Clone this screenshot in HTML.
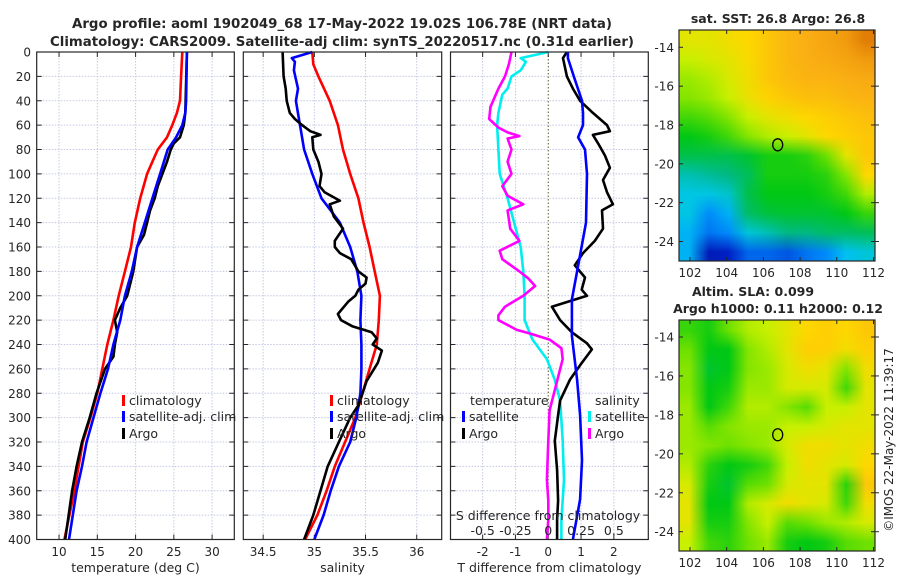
<!DOCTYPE html>
<html><head><meta charset="utf-8">
<style>
html,body{margin:0;padding:0;background:#fff;}
#wrap{position:relative;width:900px;height:580px;overflow:hidden;background:#fff;}
canvas{position:absolute;}
svg{position:absolute;left:0;top:0;}
text{font-family:"DejaVu Sans","Liberation Sans",sans-serif;fill:#262626;}
</style></head>
<body>
<div id="wrap">
<canvas id="sstMap" width="10" height="12" style="left:679px;top:30px;width:196px;height:231px;"></canvas>
<canvas id="slaMap" width="10" height="12" style="left:679px;top:320px;width:196px;height:231px;"></canvas>
<svg id="fig" width="900" height="580" viewBox="0 0 900 580">
<text x="342" y="28" text-anchor="middle" font-size="13" font-weight="bold" textLength="540" lengthAdjust="spacingAndGlyphs">Argo profile: aoml 1902049_68 17-May-2022 19.02S 106.78E (NRT data)</text>
<text x="342" y="46" text-anchor="middle" font-size="13" font-weight="bold" textLength="584" lengthAdjust="spacingAndGlyphs">Climatology: CARS2009. Satellite-adj clim: synTS_20220517.nc (0.31d earlier)</text>
<text x="778" y="23" text-anchor="middle" font-size="12.5" font-weight="bold">sat. SST: 26.8 Argo: 26.8</text>
<text x="753" y="296" text-anchor="middle" font-size="12.5" font-weight="bold">Altim. SLA: 0.099</text>
<text x="778" y="313" text-anchor="middle" font-size="12.5" font-weight="bold">Argo h1000: 0.11 h2000: 0.12</text>
<text transform="translate(893,440) rotate(-90)" text-anchor="middle" font-size="12">©IMOS 22-May-2022 11:39:17</text>
</svg>
</div>
<script>
// ---------- data ----------
var depthTicks=[0,20,40,60,80,100,120,140,160,180,200,220,240,260,280,300,320,340,360,380,400];
var tempTicks=[10,15,20,25,30];
var salTicks=[34.5,35,35.5,36];
var tdiffTicks=[-2,-1,0,1,2];
var sdiffTicks=[-0.5,-0.25,0,0.25,0.5];
var sdiffTickLabels=["-0.5","-0.25","0","0.25","0.5"];

var tDepthClim=[0,20,40,50,60,70,80,90,100,120,140,160,180,200,220,240,280,300,320,360,400];
var tClim=[26.1,25.95,25.8,25.4,24.8,24.1,22.9,22.2,21.5,20.6,19.9,19.4,18.6,17.8,17.1,16.3,15.0,14.1,13.1,12.0,10.7];
var tDepthSat=[0,40,50,60,70,80,100,120,140,160,180,200,220,240,260,280,300,320,340,360,400];
var tSat=[26.7,26.6,26.5,26.1,25.3,24.2,23.2,22.2,21.2,20.2,19.5,18.6,18.0,17.1,16.4,15.4,14.5,13.6,13.0,12.3,11.3];
var tDepthArgo=[0,50,60,70,75,80,90,100,110,120,130,140,150,160,180,200,210,220,230,240,250,260,280,300,320,340,360,400];
var tArgo=[26.7,26.5,26.3,25.8,25.0,24.6,24.1,23.5,22.9,22.5,21.9,21.5,21.1,20.2,19.7,18.9,18.0,17.3,17.6,17.3,17.1,16.0,14.9,14.0,13.0,12.3,11.7,10.8];

var sDepthClim=[0,10,20,40,60,80,100,120,140,160,180,200,220,240,260,280,300,320,340,360,380,400];
var sClim=[34.98,34.99,35.04,35.15,35.23,35.28,35.35,35.43,35.48,35.54,35.59,35.64,35.63,35.61,35.54,35.47,35.40,35.30,35.20,35.12,35.03,34.91];
var sDepthSat=[0,5,8,15,30,40,60,80,100,120,140,160,180,200,220,240,260,280,300,320,340,360,380,400];
var sSat=[34.98,34.78,34.81,34.80,34.84,34.82,34.86,34.90,34.98,35.07,35.25,35.35,35.42,35.46,35.45,35.46,35.46,35.45,35.41,35.35,35.24,35.16,35.09,35.00];
var sDepthArgo=[0,20,30,40,50,55,60,65,68,70,80,90,100,110,115,122,125,135,145,155,160,165,170,180,185,190,195,200,205,215,220,225,230,235,240,245,255,270,290,300,320,340,360,380,400];
var sArgo=[34.69,34.70,34.72,34.73,34.76,34.81,34.88,34.96,35.06,34.98,34.99,35.04,35.07,35.05,35.10,35.25,35.15,35.19,35.28,35.20,35.20,35.25,35.36,35.43,35.51,35.50,35.43,35.40,35.33,35.23,35.26,35.37,35.56,35.61,35.57,35.66,35.62,35.51,35.43,35.35,35.24,35.13,35.06,34.99,34.90];

var tdDepthSat=[0,5,20,40,50,60,70,80,100,140,180,203,233,269,298,335,367,400];
var tdSat=[0.6,0.6,0.78,1.03,1.06,1.06,0.91,1.12,1.18,1.15,0.88,0.72,0.72,0.88,0.97,1.03,0.97,0.75];
var tdDepthArgo=[0,5,20,30,40,50,60,65,68,75,85,95,105,115,125,130,145,155,165,175,185,195,200,209,220,230,239,244,257,269,286,298,319,343,368,384,400];
var tdArgo=[0.57,0.45,0.57,0.75,0.97,1.36,1.79,1.88,1.36,1.52,1.73,1.88,1.67,1.79,1.97,1.64,1.67,1.42,1.06,0.81,1.12,1.02,1.18,0.11,0.36,0.72,1.18,1.33,0.97,0.66,0.36,0.3,0.2,0.27,0.3,0.27,0.27];
var sdDepthSat=[0,5,8,15,20,30,35,50,60,100,120,140,160,180,200,220,236,252,269,286,319,351,384,400];
var sdSat=[0,-0.21,-0.17,-0.21,-0.28,-0.31,-0.35,-0.38,-0.39,-0.37,-0.31,-0.26,-0.21,-0.19,-0.18,-0.18,-0.12,-0.01,0.05,0.09,0.11,0.12,0.10,0.10];
var sdDepthArgo=[0,10,20,30,45,55,62,66,69,71,80,90,100,110,118,125,130,145,155,163,170,180,186,192,200,209,216,220,228,231,236,243,252,269,294,319,351,368,384,400];
var sdArgo=[-0.28,-0.30,-0.33,-0.38,-0.44,-0.45,-0.38,-0.31,-0.22,-0.31,-0.28,-0.31,-0.28,-0.35,-0.31,-0.19,-0.31,-0.29,-0.22,-0.37,-0.35,-0.22,-0.15,-0.10,-0.19,-0.33,-0.38,-0.38,-0.24,-0.14,0.01,0.10,0.11,0.07,0.01,0.0,-0.01,0.0,0.0,-0.01];

var lonTicks=[102,104,106,108,110,112];
var latTicks=[-14,-16,-18,-20,-22,-24];
var argoLon=106.78, argoLat=-19.02;
var sstGrid=[
[0.72,0.72,0.74,0.76,0.80,0.84,0.86,0.88,0.90,0.96],
[0.68,0.70,0.72,0.75,0.80,0.84,0.86,0.87,0.88,0.90],
[0.64,0.66,0.70,0.74,0.80,0.83,0.85,0.85,0.86,0.87],
[0.62,0.64,0.68,0.73,0.77,0.80,0.82,0.82,0.84,0.85],
[0.56,0.58,0.62,0.68,0.72,0.74,0.76,0.78,0.80,0.82],
[0.50,0.52,0.56,0.62,0.66,0.68,0.72,0.76,0.78,0.80],
[0.46,0.46,0.46,0.48,0.52,0.52,0.54,0.60,0.72,0.80],
[0.38,0.40,0.42,0.45,0.52,0.52,0.52,0.54,0.62,0.76],
[0.34,0.34,0.36,0.46,0.50,0.50,0.50,0.52,0.56,0.66],
[0.34,0.25,0.30,0.44,0.47,0.48,0.48,0.48,0.50,0.55],
[0.30,0.22,0.25,0.35,0.38,0.42,0.42,0.44,0.44,0.45],
[0.30,0.08,0.10,0.20,0.20,0.18,0.22,0.25,0.32,0.35]];
var slaGrid=[
[0.55,0.52,0.60,0.66,0.68,0.72,0.76,0.78,0.76,0.80],
[0.60,0.50,0.50,0.62,0.66,0.72,0.78,0.78,0.74,0.78],
[0.62,0.48,0.50,0.62,0.64,0.70,0.74,0.72,0.62,0.74],
[0.62,0.50,0.52,0.64,0.64,0.70,0.70,0.70,0.56,0.72],
[0.64,0.50,0.56,0.66,0.66,0.62,0.58,0.68,0.68,0.72],
[0.64,0.58,0.62,0.64,0.64,0.68,0.68,0.70,0.72,0.72],
[0.64,0.62,0.60,0.62,0.64,0.70,0.74,0.74,0.72,0.74],
[0.66,0.54,0.50,0.52,0.56,0.68,0.74,0.72,0.70,0.76],
[0.70,0.52,0.48,0.58,0.60,0.70,0.72,0.72,0.54,0.80],
[0.72,0.50,0.50,0.66,0.70,0.74,0.72,0.70,0.56,0.74],
[0.72,0.52,0.52,0.62,0.68,0.58,0.60,0.64,0.66,0.70],
[0.68,0.56,0.54,0.60,0.64,0.52,0.50,0.52,0.58,0.60]];

// ---------- drawing ----------
var NS="http://www.w3.org/2000/svg";
var svg=document.getElementById('fig');
function mk(tag,attrs,parent){var e=document.createElementNS(NS,tag);for(var k in attrs)e.setAttribute(k,attrs[k]);(parent||svg).appendChild(e);return e;}
var Y0=52,Y1=539.5;
function yD(d){return Y0+(d/400)*(Y1-Y0);}
function lin(d0,d1,r0,r1){return function(v){return r0+(v-d0)/(d1-d0)*(r1-r0);};}
var panels=[
 {name:'temperature',x0:36.7,x1:234.3,sc:lin(7.08,32.9,36.7,234.3),ticks:tempTicks,labels:tempTicks.map(String),title:'temperature (deg C)',ylab:true},
 {name:'salinity',x0:243.3,x1:441.7,sc:lin(34.306,36.244,243.3,441.7),ticks:salTicks,labels:salTicks.map(String),title:'salinity',ylab:false},
 {name:'difference',x0:450.5,x1:648.3,sc:lin(-2.98,3.05,450.5,648.3),ticks:tdiffTicks,labels:tdiffTicks.map(String),title:'T difference from climatology',ylab:false}
];
panels.forEach(function(p){
 var g=mk('g',{});
 
 
 depthTicks.forEach(function(d){
  if(d===0||d===400)return;
  var l=mk('line',{x1:p.x0,x2:p.x1,y1:yD(d),y2:yD(d),stroke:'#c4c8e4','stroke-width':1,'stroke-dasharray':'1.5,1.5'},g);
  
  
 });
 p.ticks.forEach(function(v,i){
  var x=p.sc(v);
  if(p.name==='difference'&&v===0){
   var z=mk('line',{x1:x,x2:x,y1:Y0,y2:Y1,stroke:'#5a5a30','stroke-width':1,'stroke-dasharray':'1.5,2'},g);
   
   
  } else {
   var l=mk('line',{x1:x,x2:x,y1:Y0,y2:Y1,stroke:'#c4c8e4','stroke-width':1,'stroke-dasharray':'1.5,1.5'},g);
   
   
  }
  mk('line',{x1:x,x2:x,y1:Y1,y2:Y1-5,stroke:'#262626','stroke-width':1},g);
  mk('line',{x1:x,x2:x,y1:Y0,y2:Y0+5,stroke:'#262626','stroke-width':1},g);
  var t=mk('text',{x:x,y:556,'text-anchor':'middle','font-size':12},g);
  t.textContent=p.labels[i];
  
  
 });
 depthTicks.forEach(function(d){
  mk('line',{x1:p.x0,x2:p.x0+5,y1:yD(d),y2:yD(d),stroke:'#262626','stroke-width':1},g);
  mk('line',{x1:p.x1,x2:p.x1-5,y1:yD(d),y2:yD(d),stroke:'#262626','stroke-width':1},g);
  if(p.ylab){
   var t=mk('text',{x:31,y:yD(d)+4.5,'text-anchor':'end','font-size':12},g);
   t.textContent=d;
   
   
  }
 });
 var tt=mk('text',{x:(p.x0+p.x1)/2,y:572,'text-anchor':'middle','font-size':12.5},g);
 tt.textContent=p.title;
 
 
 p.g=g;
});
function series(p,depths,vals,color,name,sc){
 var s=sc||p.sc,pts=[];
 for(var i=0;i<depths.length;i++)pts.push(s(vals[i]).toFixed(1)+','+yD(depths[i]).toFixed(1));
 var pl=mk('polyline',{points:pts.join(' '),fill:'none',stroke:color,'stroke-width':2.6,'stroke-linejoin':'round'},p.g);
 
 
}
var P1=panels[0],P2=panels[1],P3=panels[2];
var sdScale=lin(-0.745,0.7625,450.5,648.3);
series(P1,tDepthClim,tClim,'#ff0000','temp-climatology-line');
series(P1,tDepthArgo,tArgo,'#000000','temp-argo-line');
series(P1,tDepthSat,tSat,'#0000ff','temp-satellite-line');
series(P2,sDepthClim,sClim,'#ff0000','sal-climatology-line');
series(P2,sDepthSat,sSat,'#0000ff','sal-satellite-line');
series(P2,sDepthArgo,sArgo,'#000000','sal-argo-line');
series(P3,sdDepthSat,sdSat,'#00eeee','sdiff-satellite-line',sdScale);
series(P3,sdDepthArgo,sdArgo,'#ff00ff','sdiff-argo-line',sdScale);
series(P3,tdDepthArgo,tdArgo,'#000000','tdiff-argo-line');
series(P3,tdDepthSat,tdSat,'#0000ff','tdiff-satellite-line');
var sl=mk('text',{x:548,y:520,'text-anchor':'middle','font-size':12.5},P3.g);
sl.textContent='S difference from climatology';


sdiffTicks.forEach(function(v,i){
 var t=mk('text',{x:sdScale(v),y:535,'text-anchor':'middle','font-size':12.5},P3.g);
 t.textContent=sdiffTickLabels[i];
 
 
});
panels.forEach(function(p){
 var r=mk('rect',{x:p.x0,y:Y0,width:p.x1-p.x0,height:Y1-Y0,fill:'none',stroke:'#262626','stroke-width':1.2},p.g);
 
 
});
function legend(g,x,y,color,label){
 var r=mk('rect',{x:x,y:y-10,width:3,height:11,fill:color},g);
 
 
 var t=mk('text',{x:x+7,y:y,'font-size':12.5},g);
 t.textContent=label;
 
 
}
[[P1,122],[P2,330]].forEach(function(a){
 legend(a[0].g,a[1],405,'#ff0000','climatology');
 legend(a[0].g,a[1],421,'#0000ff','satellite-adj. clim');
 legend(a[0].g,a[1],438,'#000000','Argo');
});
var th=mk('text',{x:470,y:405,'font-size':12.5},P3.g);th.textContent='temperature';


legend(P3.g,462,421,'#0000ff','satellite');
legend(P3.g,462,438,'#000000','Argo');
var sh=mk('text',{x:595,y:405,'font-size':12.5},P3.g);sh.textContent='salinity';


legend(P3.g,588,421,'#00eeee','satellite');
legend(P3.g,588,438,'#ff00ff','Argo');

// ---------- maps ----------
var cstops=[[0,[0,0,130]],[0.12,[0,40,210]],[0.25,[0,140,250]],[0.33,[0,200,240]],[0.42,[0,185,130]],[0.5,[0,200,20]],[0.6,[110,225,0]],[0.68,[200,240,0]],[0.76,[255,215,0]],[0.86,[250,175,20]],[1,[215,105,0]]];
function cmap(v){
 for(var i=1;i<cstops.length;i++){if(v<=cstops[i][0]){var a=cstops[i-1],b=cstops[i],f=(v-a[0])/(b[0]-a[0]);
  return [0,1,2].map(function(k){return Math.round(a[1][k]+f*(b[1][k]-a[1][k]));});}}
 return cstops[cstops.length-1][1];
}
function paint(id,grid){
 var c=document.getElementById(id),ctx=c.getContext('2d');
 var img=ctx.createImageData(10,12);
 for(var r=0;r<12;r++)for(var q=0;q<10;q++){var col=cmap(grid[r][q]),o=(r*10+q)*4;img.data[o]=col[0];img.data[o+1]=col[1];img.data[o+2]=col[2];img.data[o+3]=255;}
 ctx.putImageData(img,0,0);
}
paint('sstMap',sstGrid);paint('slaMap',slaGrid);
var maps=[{name:'sst-map',top:30,bottom:261,lat14:47.3,lat24:241.5},{name:'sla-map',top:320,bottom:551,lat14:337,lat24:531.7}];
maps.forEach(function(m){
 var g=mk('g',{});
 
 
 var L=679,R=875;
 var xs=lin(102,112,690,873.5),ys=lin(-14,-24,m.lat14,m.lat24);
 lonTicks.forEach(function(v){
  var x=xs(v);
  mk('line',{x1:x,x2:x,y1:m.bottom,y2:m.bottom-4,stroke:'#262626'},g);
  mk('line',{x1:x,x2:x,y1:m.top,y2:m.top+4,stroke:'#262626'},g);
  var t=mk('text',{x:x,y:m.bottom+16,'text-anchor':'middle','font-size':12},g);
  t.textContent=v;
  
  
 });
 latTicks.forEach(function(v){
  var y=ys(v);
  mk('line',{x1:L,x2:L+4,y1:y,y2:y,stroke:'#262626'},g);
  mk('line',{x1:R,x2:R-4,y1:y,y2:y,stroke:'#262626'},g);
  mk('line',{x1:R,x2:R+4,y1:y,y2:y,stroke:'#262626'},g);
  var t=mk('text',{x:674,y:y+4.5,'text-anchor':'end','font-size':12},g);
  t.textContent=v;
  
  
 });
 var fr=mk('rect',{x:L,y:m.top,width:R-L,height:m.bottom-m.top,fill:'none',stroke:'#262626','stroke-width':1.2},g);
 
 
 var c=mk('ellipse',{cx:xs(argoLon),cy:ys(argoLat),rx:5,ry:6,fill:'none',stroke:'#000','stroke-width':1.3},g);
 
 
});
</script>
</body></html>
